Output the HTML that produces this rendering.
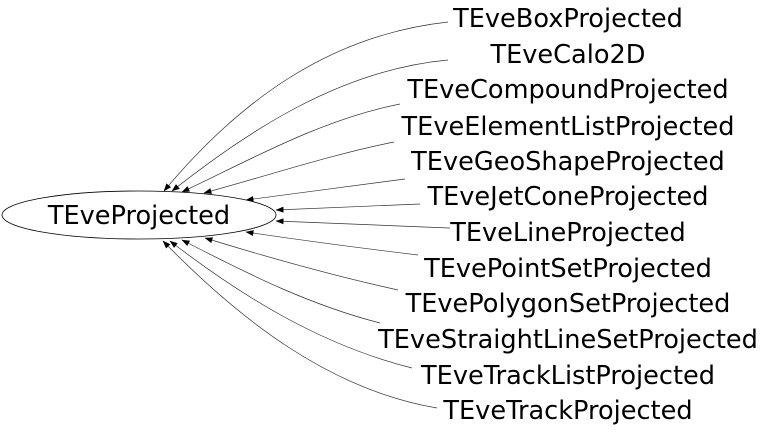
<!DOCTYPE html>
<html><head><meta charset="utf-8"><style>html,body{margin:0;padding:0;background:#fff}svg{display:block}</style></head>
<body>
<svg width="768" height="432" viewBox="0 0 768 432" xmlns="http://www.w3.org/2000/svg" font-family="DejaVu Sans, Liberation Sans, sans-serif" font-size="25.6">
<defs><marker id="a" markerWidth="8" markerHeight="6" refX="7.5" refY="3" orient="auto" markerUnits="userSpaceOnUse"><path d="M0,0 L8,3 L0,6 z" fill="#000"/></marker></defs>
<ellipse cx="139" cy="215" rx="137" ry="24" fill="#fff" stroke="#000" stroke-width="0.8"/>
<text x="139" y="224" text-anchor="middle">TEveProjected</text>
<g fill="none" stroke="#333" stroke-width="0.7" marker-end="url(#a)">
<path d="M448,22 C330,35 240,100 164,191"/>
<path d="M448,60 C340,70 250,130 172,191"/>
<path d="M400,104 C320,120 250,160 182,192"/>
<path d="M394,142 C330,155 270,175 204,193"/>
<path d="M405,179 C350,186 300,193 246,200"/>
<path d="M420,204 C370,206 320,208 276,210"/>
<path d="M450,228 C390,226 330,223 276,221"/>
<path d="M418,255 C360,248 300,240 246,232"/>
<path d="M398,290 C330,275 270,258 205,238"/>
<path d="M380,323 C310,305 250,275 182,240"/>
<path d="M412,368 C320,345 240,295 170,241"/>
<path d="M437,408 C330,390 240,320 163,241"/>
</g>
<g text-anchor="middle">
<text x="568" y="27">TEveBoxProjected</text>
<text x="568" y="63">TEveCalo2D</text>
<text x="568" y="98">TEveCompoundProjected</text>
<text x="568" y="135">TEveElementListProjected</text>
<text x="568" y="170">TEveGeoShapeProjected</text>
<text x="568" y="205">TEveJetConeProjected</text>
<text x="568" y="241">TEveLineProjected</text>
<text x="568" y="277">TEvePointSetProjected</text>
<text x="568" y="312">TEvePolygonSetProjected</text>
<text x="568" y="348">TEveStraightLineSetProjected</text>
<text x="568" y="384">TEveTrackListProjected</text>
<text x="568" y="419">TEveTrackProjected</text>
</g>
</svg>
</body></html>
